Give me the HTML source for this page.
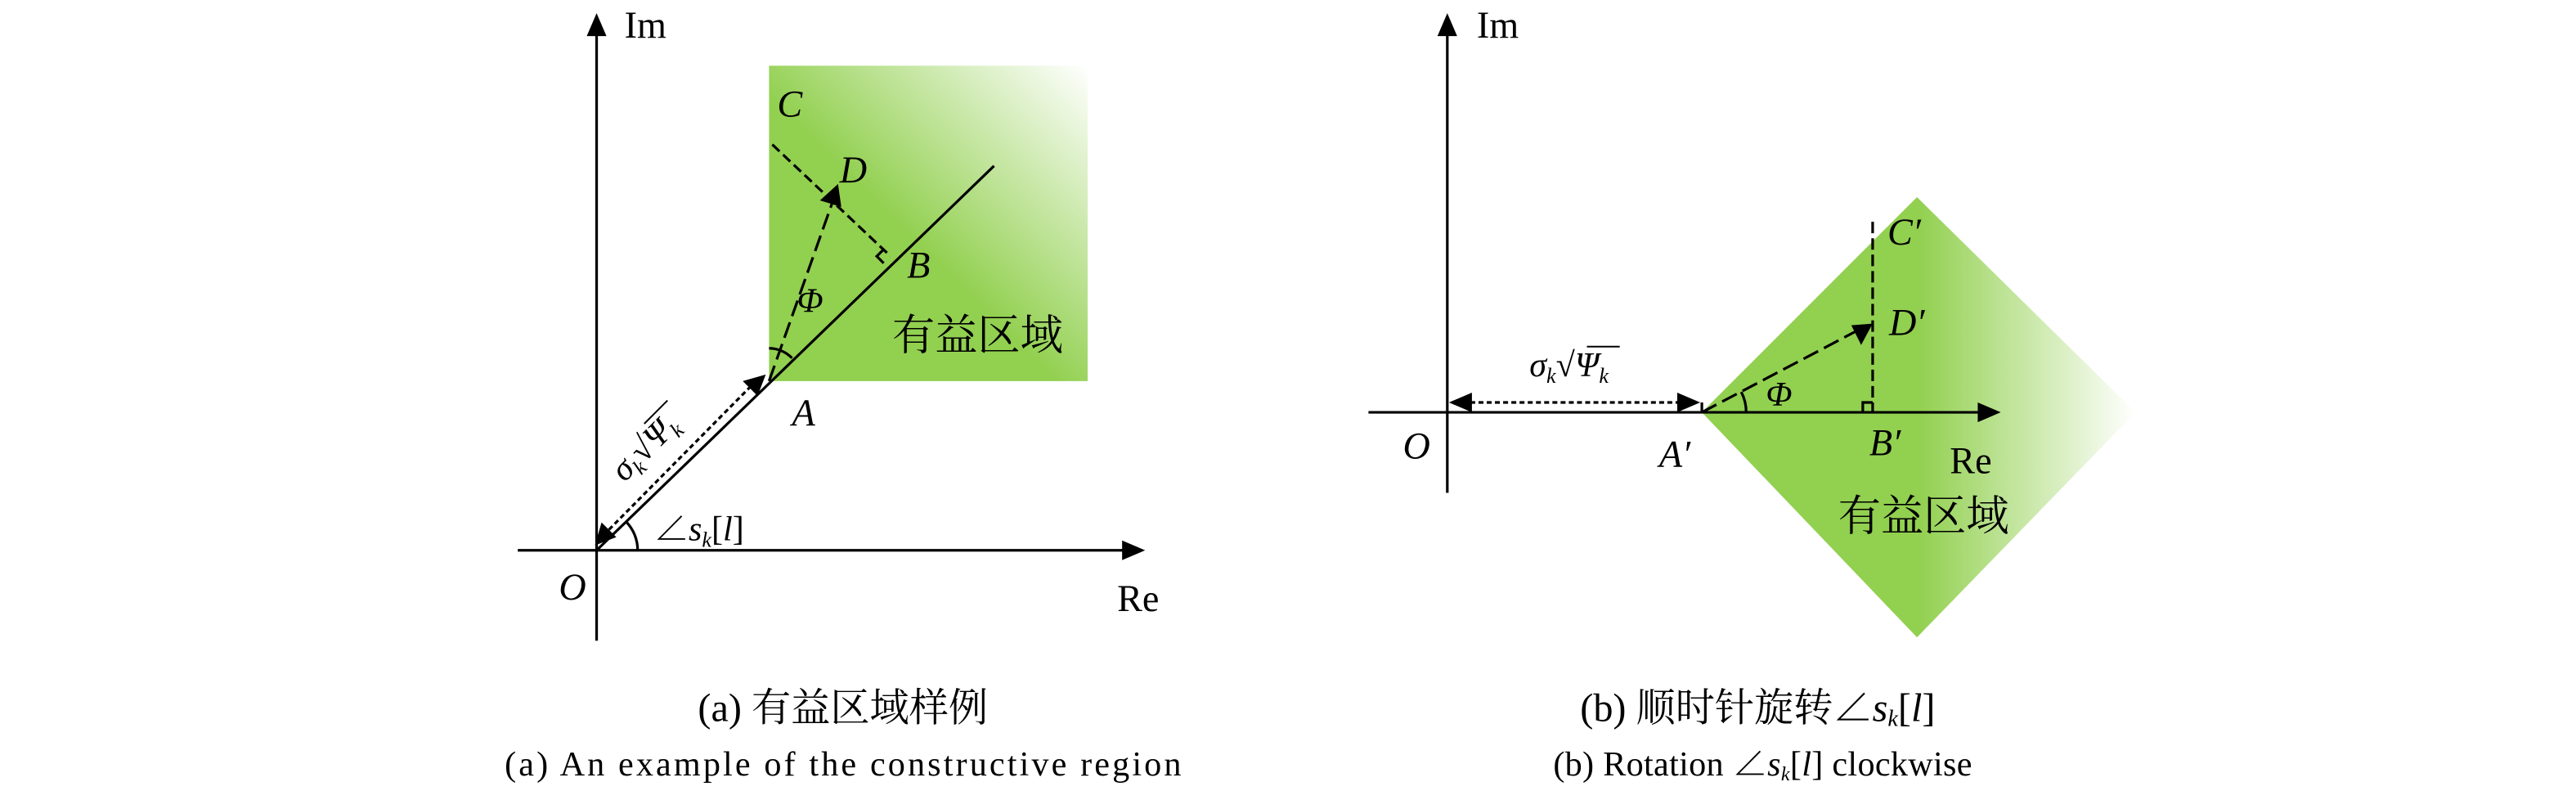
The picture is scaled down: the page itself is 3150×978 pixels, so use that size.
<!DOCTYPE html>
<html><head><meta charset="utf-8"><style>
html,body{margin:0;padding:0;background:#fff;}
svg{display:block}
text{font-family:"Liberation Serif","Noto Serif CJK SC",serif;fill:#000}
.it{font-style:italic}
.cj{font-family:"Liberation Serif","Noto Serif CJK SC","Noto Sans CJK SC",serif}
</style></head><body>
<svg width="3150" height="978" viewBox="0 0 1568 487" xmlns="http://www.w3.org/2000/svg">
<defs>
<linearGradient id="g1" x1="0" y1="1" x2="1" y2="0">
<stop offset="0" stop-color="#92d050"/><stop offset="0.45" stop-color="#92d050"/><stop offset="1" stop-color="#ffffff"/>
</linearGradient>
<linearGradient id="g2" x1="1036" y1="0" x2="1300" y2="0" gradientUnits="userSpaceOnUse">
<stop offset="0" stop-color="#92d050"/><stop offset="0.5" stop-color="#92d050"/><stop offset="1" stop-color="#ffffff"/>
</linearGradient>
</defs>
<!-- LEFT -->
<rect x="468" y="40" width="194" height="192" fill="url(#g1)"/>
<g stroke="#000" stroke-width="1.6" fill="none">
<line x1="363" y1="14" x2="363" y2="390"/>
<line x1="315" y1="335" x2="688" y2="335"/>
<line x1="363" y1="335" x2="605" y2="101"/>
<line x1="470" y1="88" x2="542" y2="156" stroke-dasharray="6,3"/>
<line x1="468" y1="232" x2="507" y2="122" stroke-dasharray="10,4"/>
<line x1="367" y1="326" x2="462" y2="230" stroke-dasharray="3,2"/>
<polyline points="537.8,160.2 533.6,156 537.8,151.8"/>
<path d="M388,335 A25,25 0 0 0 380.7,317.3"/>
<path d="M482,218 A20,20 0 0 0 468,212"/>
</g>
<polygon points="363,8 357,22 369,22"/>
<polygon points="697,335 683,329 683,341"/>
<polygon points="510,112 499,122 512,126"/>
<polygon points="466,228 452,232 461,241"/>
<polygon points="362,332 366,318 375,327"/>
<text x="380" y="23" font-size="23">Im</text>
<text x="680" y="372" font-size="23">Re</text>
<text x="340" y="365" font-size="23" class="it">O</text>
<text x="482" y="259" font-size="23" class="it">A</text>
<text x="552" y="169" font-size="23" class="it">B</text>
<text x="473" y="71" font-size="23" class="it">C</text>
<text x="511" y="111" font-size="23" class="it">D</text>
<text x="485" y="190" font-size="21" class="it">Φ</text>
<text x="543" y="213" font-size="26" class="cj">有益区域</text>
<text x="398" y="329" font-size="21"><tspan>∠</tspan><tspan class="it">s</tspan><tspan class="it" font-size="13" dy="4">k</tspan><tspan dy="-4">[</tspan><tspan class="it">l</tspan><tspan>]</tspan></text>
<g transform="translate(380,294) rotate(-45)">
<text x="0" y="0" font-size="21"><tspan class="it">σ</tspan><tspan class="it" font-size="13" dy="4">k</tspan><tspan dy="-4">√</tspan><tspan class="it">Ψ</tspan><tspan class="it" font-size="13" dy="4">k</tspan></text>
<line x1="34" y1="-17" x2="54" y2="-17" stroke="#000" stroke-width="1"/>
</g>
<text x="513" y="439" font-size="24" text-anchor="middle" class="cj">(a) 有益区域样例</text>
<text x="513" y="472" font-size="21" text-anchor="middle" textLength="412">(a) An example of the constructive region</text>
<!-- RIGHT -->
<polygon points="1036,251 1167,120 1300,251 1167,388" fill="url(#g2)"/>
<g stroke="#000" stroke-width="1.6" fill="none">
<line x1="881" y1="14" x2="881" y2="300"/>
<line x1="833" y1="251" x2="1208" y2="251"/>
<line x1="885" y1="245" x2="1030" y2="245" stroke-dasharray="3,2"/>
<line x1="1036" y1="245" x2="1036" y2="251"/>
<line x1="1036" y1="251" x2="1133" y2="200" stroke-dasharray="10,4"/>
<line x1="1140" y1="135" x2="1140" y2="251" stroke-dasharray="7,3"/>
<polyline points="1134,251 1134,245 1140,245"/>
<path d="M1063,251 A27,27 0 0 0 1060,238.6"/>
</g>
<polygon points="881,8 875,22 887,22"/>
<polygon points="1218,251 1204,245 1204,257"/>
<polygon points="882,245 896,239 896,251"/>
<polygon points="1035,245 1021,239 1021,251"/>
<polygon points="1140,197 1127,198 1133,210"/>
<text x="899" y="23" font-size="23">Im</text>
<text x="1187" y="288" font-size="23">Re</text>
<text x="854" y="279" font-size="23" class="it">O</text>
<text x="1010" y="284" font-size="23" class="it">A′</text>
<text x="1138" y="277" font-size="23" class="it">B′</text>
<text x="1149" y="149" font-size="23" class="it">C′</text>
<text x="1150" y="204" font-size="23" class="it">D′</text>
<text x="1075" y="247" font-size="21" class="it">Φ</text>
<text x="1119" y="323" font-size="26" class="cj">有益区域</text>
<text x="931" y="229" font-size="21"><tspan class="it">σ</tspan><tspan class="it" font-size="13" dy="4">k</tspan><tspan dy="-4">√</tspan><tspan class="it">Ψ</tspan><tspan class="it" font-size="13" dy="4">k</tspan></text>
<line x1="966" y1="211" x2="986" y2="211" stroke="#000" stroke-width="1"/>
<text x="1070" y="439" font-size="24" text-anchor="middle" class="cj">(b) 顺时针旋转∠<tspan class="it">s</tspan><tspan class="it" font-size="14" dy="3">k</tspan><tspan dy="-3">[</tspan><tspan class="it">l</tspan>]</text>
<text x="1073" y="472" font-size="21" text-anchor="middle" textLength="255">(b) Rotation ∠<tspan class="it">s</tspan><tspan class="it" font-size="12" dy="3">k</tspan><tspan dy="-3">[</tspan><tspan class="it">l</tspan>] clockwise</text>
</svg>
</body></html>
